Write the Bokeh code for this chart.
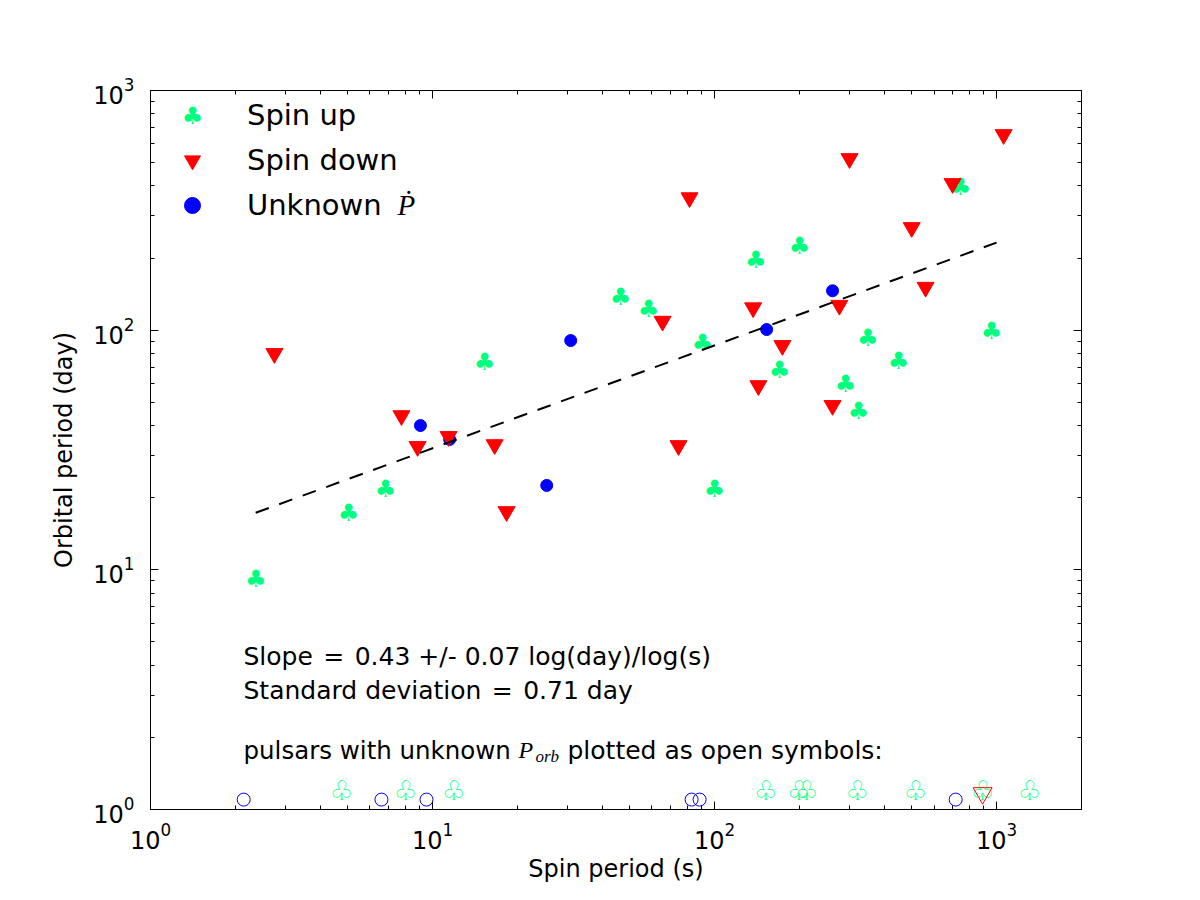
from bokeh.plotting import figure
from bokeh.models import Range1d, FixedTicker, LogAxis, Label, Legend, LegendItem
from bokeh.core.properties import value
from bokeh.embed import file_html
from bokeh.resources import INLINE

# ---- data ----
spin_up_x = [2.36, 5.04, 6.81, 15.3, 46.4, 58.3, 90.7, 100, 140, 200, 170, 291, 324, 349, 449, 960, 745]
spin_up_y = [9.2, 17.2, 21.8, 74, 137, 122, 88.8, 21.8, 197, 225, 68.5, 59.9, 45.8, 93.1, 74.7, 99.6, 394]

spin_down_x = [2.75, 7.76, 8.85, 11.4, 16.6, 18.3, 81.5, 65.4, 137, 301, 500, 698, 1059, 560, 277, 174, 143, 262, 74.5]
spin_down_y = [79.9, 44.0, 32.7, 36.0, 33.3, 17.5, 357, 109, 124, 520, 268, 409, 655, 151, 127, 86.3, 58.7, 48.5, 33.0]

unknown_x = [9.06, 11.5, 25.4, 30.9, 262, 153]
unknown_y = [40.0, 35.0, 22.5, 90.5, 146, 100.6]

open_up_x = [4.76, 8.02, 11.9, 152, 199, 212, 321, 516, 892, 1309]
open_up_y = [1.2, 1.2, 1.2, 1.2, 1.2, 1.2, 1.2, 1.2, 1.2, 1.2]

open_down_x = [892]
open_down_y = [1.17]

open_unk_x = [2.14, 6.59, 9.52, 82.9, 88.5, 716]
open_unk_y = [1.1, 1.1, 1.1, 1.1, 1.1, 1.1]

fit_x = [2.36, 1000]
fit_y = [17.3, 232]

major_ticks = [1, 10, 100, 1000]
minor_x_ticks = [2, 3, 4, 5, 6, 7, 8, 9, 20, 30, 40, 50, 60, 70, 80, 90,
                 200, 300, 400, 500, 600, 700, 800, 900]
minor_y_ticks = [2, 3, 4, 5, 6, 7, 8, 9, 20, 30, 40, 50, 60, 70, 80, 90,
                 200, 300, 400, 500, 600, 700, 800, 900]

legend_labels = ["Spin up", "Spin down", "Unknown"]

GREEN = "#00FF7F"
RED = "#FF0000"
BLUE = "#0000FF"
FONT = "DejaVu Sans"

p = figure(width=1200, height=900, x_axis_type="log", y_axis_type="log",
           x_range=Range1d(1, 2000), y_range=Range1d(1, 1000),
           output_backend="svg", toolbar_location=None,
           min_border_left=150, min_border_right=119,
           min_border_top=90, min_border_bottom=91)
p.xgrid.visible = False
p.ygrid.visible = False
p.outline_line_color = "black"
p.background_fill_color = "white"
p.border_fill_color = "white"


def style_axis(ax, minor, labels=True):
    ax.ticker = FixedTicker(ticks=major_ticks, minor_ticks=minor)
    ax.axis_line_color = "black"
    ax.axis_line_width = 1
    ax.major_tick_in = 8
    ax.major_tick_out = 0
    ax.minor_tick_in = 4
    ax.minor_tick_out = 0
    ax.major_tick_line_color = "black"
    ax.minor_tick_line_color = "black"
    ax.major_label_text_font = FONT
    ax.major_label_text_font_size = "24px"
    ax.major_label_text_color = "black" if labels else None
    ax.axis_label_text_font = FONT
    ax.axis_label_text_font_size = "24px"
    ax.axis_label_text_font_style = "normal"
    ax.axis_label_text_color = "black"


style_axis(p.xaxis[0], minor_x_ticks)
style_axis(p.yaxis[0], minor_y_ticks)
p.xaxis.axis_label = "Spin period (s)"
p.yaxis.axis_label = "Orbital period (day)"
p.xaxis.major_label_standoff = 12
p.yaxis.major_label_standoff = 16
p.xaxis.axis_label_standoff = 3
p.yaxis.axis_label_standoff = 12

top_ax = LogAxis()
style_axis(top_ax, minor_x_ticks, labels=False)
p.add_layout(top_ax, "above")
right_ax = LogAxis()
style_axis(right_ax, minor_y_ticks, labels=False)
p.add_layout(right_ax, "right")

# ---- marks ----
r_up = p.text(x=spin_up_x, y=spin_up_y, text=value("\u2663"), text_color=GREEN,
              text_font=value(FONT), text_font_size="24px",
              text_align="center", text_baseline="middle")
r_unk = p.scatter(x=unknown_x, y=unknown_y, marker="circle", size=12,
                  fill_color=BLUE, line_color=BLUE)
r_down = p.scatter(x=spin_down_x, y=spin_down_y, marker="inverted_triangle", size=17,
                   fill_color=RED, line_color=RED)

p.text(x=open_up_x, y=open_up_y, text=value("\u2667"), text_color=GREEN,
       text_font=value(FONT), text_font_size="27px",
       text_align="center", text_baseline="middle")
p.scatter(x=open_unk_x, y=open_unk_y, marker="circle", size=13,
          fill_color=None, line_color=BLUE, line_width=1)
p.scatter(x=open_down_x, y=open_down_y, marker="inverted_triangle", size=19,
          fill_color=None, line_color=RED, line_width=1)

p.line(x=fit_x, y=fit_y, line_color="black", line_width=2, line_dash="14 11")

# ---- legend ----
legend = Legend(items=[LegendItem(label=legend_labels[0], renderers=[r_up]),
                       LegendItem(label=legend_labels[1], renderers=[r_down]),
                       LegendItem(label=legend_labels[2], renderers=[r_unk])],
                location="top_left", margin=5, padding=0, spacing=5,
                glyph_width=74, glyph_height=40, label_height=40, label_standoff=18,
                label_text_font=FONT, label_text_font_size="29px",
                label_text_color="black",
                border_line_color=None, background_fill_alpha=0)
p.add_layout(legend)


def lab(text, x, y, size, font=FONT, style="normal", color="black",
        align="left", baseline="alphabetic"):
    p.add_layout(Label(x=x, y=y, x_units="screen", y_units="screen", text=text,
                       text_font=font, text_font_size=size, text_font_style=style,
                       text_color=color, text_align=align, text_baseline=baseline))


# legend club glyph and the P-dot
lab("\u2663", 42, 694, "24px", color=GREEN, align="center", baseline="middle")
lab("P\u0307", 247, 605, "29px", font="Liberation Serif", style="italic")

# annotations
EQ = " \u200a=\u200a "
lab("Slope" + EQ + "0.43 +/- 0.07 log(day)/log(s)", 93, 153, "25px")
lab("Standard deviation" + EQ + "0.71 day", 93, 119, "25px")
lab("pulsars with unknown", 93, 59, "24.5px")
lab("P", 368, 60, "24px", font="Liberation Serif", style="italic")
lab("orb", 385, 53, "17px", font="Liberation Serif", style="italic")
lab("plotted as open symbols:", 417, 59, "25px")

open("out.html", "w").write(file_html(p, INLINE))
